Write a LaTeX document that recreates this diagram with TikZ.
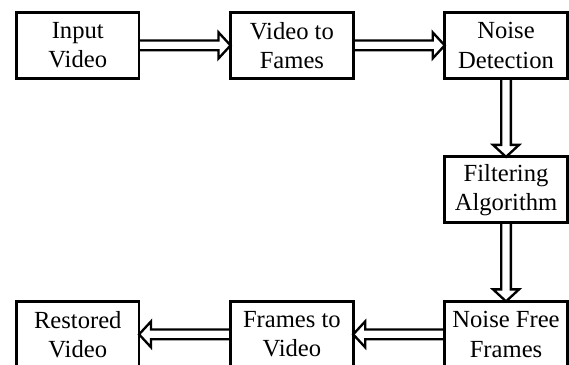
\documentclass[tikz,border=0pt]{standalone}
\usepackage{fontspec}
\setmainfont{Liberation Serif}
\usetikzlibrary{calc,matrix,positioning}

\tikzset{
  stage/.style={draw,line width=2.4pt,minimum width=3.68cm,minimum height=1.98cm,
    outer sep=0pt,align=center,font=\fontsize{21}{25}\selectfont},
  flow/.style={draw,line width=2pt,miter limit=4,
    to path={($(\tikztostart)!0.145cm!90:(\tikztotarget)$)
      -- ($(\tikztotarget)!0.36cm!(\tikztostart)!0.145cm!-90:(\tikztostart)$)
      -- ($(\tikztotarget)!0.36cm!(\tikztostart)!0.39cm!-90:(\tikztostart)$)
      -- (\tikztotarget)
      -- ($(\tikztotarget)!0.36cm!(\tikztostart)!0.39cm!90:(\tikztostart)$)
      -- ($(\tikztotarget)!0.36cm!(\tikztostart)!0.145cm!90:(\tikztostart)$)
      -- ($(\tikztostart)!0.145cm!-90:(\tikztotarget)$)}}
}

\begin{document}
\begin{tikzpicture}
\useasboundingbox (0,0) rectangle (17.07,-10.95);
\matrix [anchor=north west,inner sep=0pt,outer sep=0pt,
  column sep=2.66cm,row sep=2.27cm] (m) at (0.45,-0.33)
{
    \node[stage] (input) {Input\\Video}; &
    \node[stage] (toframes) {Video to\\Fames}; &
    \node[stage] (detect) {Noise\\Detection}; \\
    & & \node[stage] (filter) {Filtering\\Algorithm}; \\
    \node[stage] (restored) {Restored\\Video}; &
    \node[stage] (tovideo) {Frames to\\Video}; &
    \node[stage] (free) {Noise Free\\Frames}; \\
};
% block arrows between the stages
\path[flow] (input.east) to (toframes.west);
\path[flow] (toframes.east) to (detect.west);
\path[flow] (detect.south) to (filter.north);
\path[flow] (filter.south) to (free.north);
\path[flow] (free.west) to (tovideo.east);
\path[flow] (tovideo.west) to (restored.east);
\end{tikzpicture}
\end{document}
